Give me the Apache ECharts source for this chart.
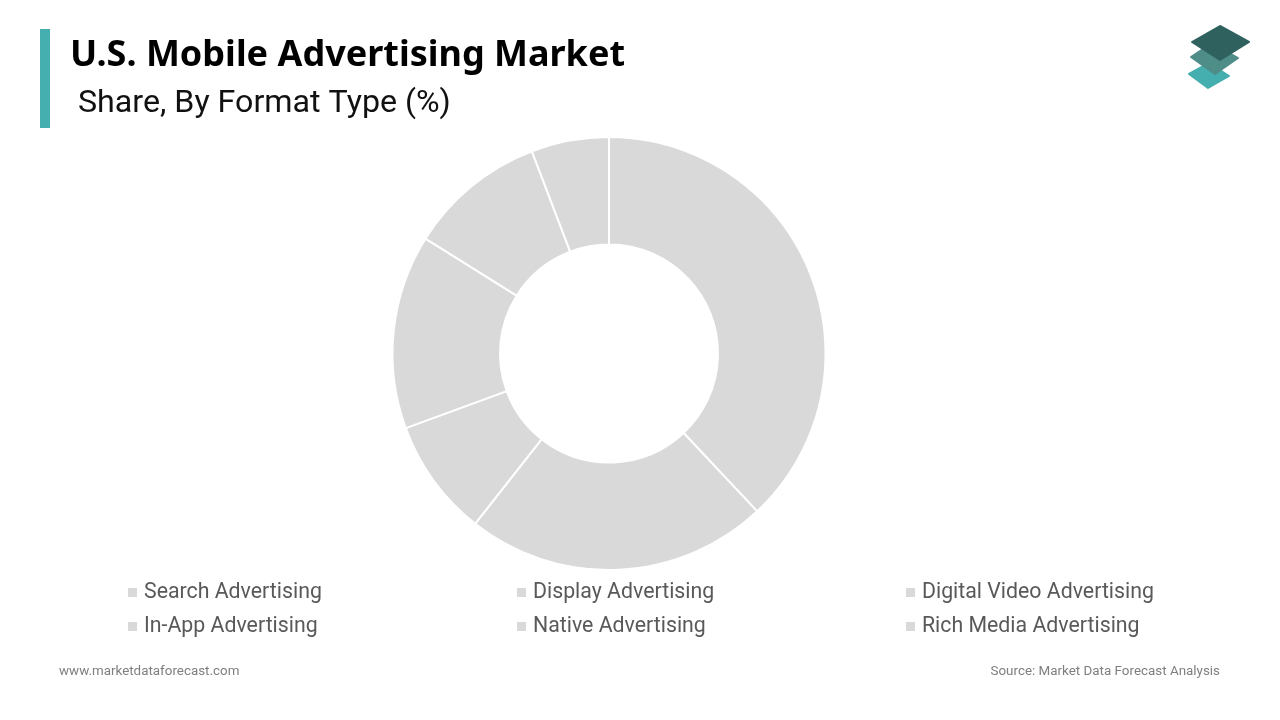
<!DOCTYPE html>
<html><head><meta charset="utf-8">
<style>html,body{margin:0;padding:0;background:#fff}#c{width:1280px;height:720px}</style>
<script src="https://cdn.jsdelivr.net/npm/echarts@6/dist/echarts.min.js"></script>
</head><body><div id="c"></div>
<script>
const categories = ["Search Advertising","Display Advertising","Digital Video Advertising","In-App Advertising","Native Advertising","Rich Media Advertising"];
const shares = [38, 22.6, 8.8, 14.5, 10.3, 5.8];
const sliceColor = "#d9d9d9";
const chart = echarts.init(document.getElementById('c'));
const legendAt = (left, names) => ({
  left, top: 578, orient:'vertical', itemGap: 5, itemWidth: 9, itemHeight: 9, icon:'rect', padding:0,
  data: names, selectedMode:false,
  itemStyle:{borderWidth:0},
  textStyle:{fontFamily:'Roboto',fontSize:21.3,color:'#595959',padding:[7,0,0,2],lineHeight:22,height:22}
});
const poly = (points, fill) => ({type:'polygon', shape:{points, smooth:0}, style:{fill, stroke:fill, lineWidth:2, lineJoin:'round'}, silent:true});
chart.setOption({
  animation:false,
  backgroundColor:'#fff',
  title:[
    {text:'U.S. Mobile Advertising Market',left:70,top:38,padding:0,textStyle:{fontFamily:'Noto Sans',fontWeight:'bold',fontSize:36,color:'#000'}},
    {text:'Share, By Format Type (%)',left:78,top:88,padding:0,textStyle:{fontFamily:'Roboto',fontWeight:'normal',fontSize:32.2,color:'#111'}},
    {text:'www.marketdataforecast.com',left:59,top:665,padding:0,textStyle:{fontFamily:'Roboto',fontWeight:'normal',fontSize:13.4,color:'#7f7f7f'}},
    {text:'Source: Market Data Forecast Analysis',right:60,top:665,padding:0,textStyle:{fontFamily:'Roboto',fontWeight:'normal',fontSize:13.4,color:'#7f7f7f'}}
  ],
  legend:[
    legendAt(128,[categories[0],categories[3]]),
    legendAt(517,[categories[1],categories[4]]),
    legendAt(906,[categories[2],categories[5]])
  ],
  series:[{
    type:'pie',
    center:[609,353.5],
    radius:[109,216.5],
    startAngle:90,
    clockwise:true,
    label:{show:false},labelLine:{show:false},
    silent:true,
    itemStyle:{color:sliceColor,borderColor:'#fff',borderWidth:2},
    data:categories.map((name,i)=>({name,value:shares[i]}))
  }],
  graphic:[
    {type:'rect',shape:{x:40,y:29,width:10,height:99},style:{fill:'#45aeae'},silent:true},
    poly([[1209,63],[1229,76],[1208,88],[1189,74]],'#45aeae'),
    poly([[1212,43],[1238,58],[1215,74],[1191,57]],'#4f8d89'),
    poly([[1220,26],[1249,42],[1220,60],[1192,42]],'#2f625f')
  ]
});
</script></body></html>
